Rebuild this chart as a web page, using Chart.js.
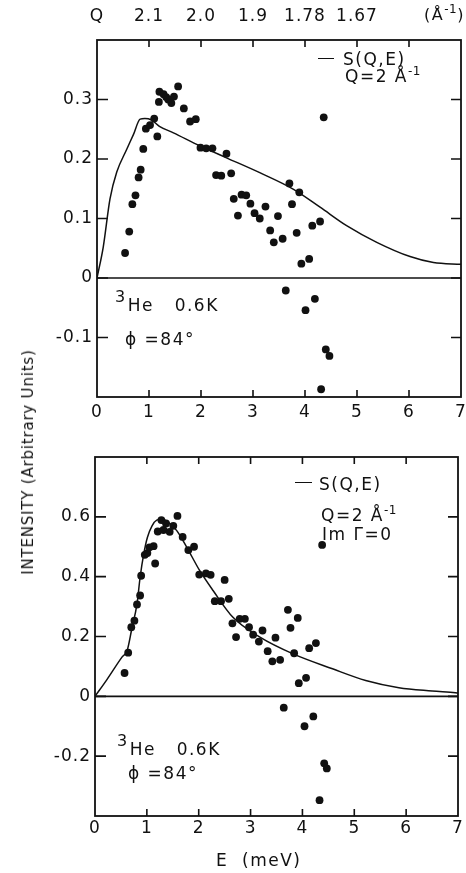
<!DOCTYPE html>
<html><head><meta charset="utf-8">
<script src="https://cdn.jsdelivr.net/npm/chart.js@4.4.1/dist/chart.umd.min.js"></script>
<style>
html,body{margin:0;padding:0;background:#fff;}
body{width:466px;height:873px;position:relative;overflow:hidden;font-family:"DejaVu Sans",sans-serif;color:#111;}
canvas{position:absolute;left:0;}
.t{position:absolute;font-size:17px;letter-spacing:1.5px;white-space:nowrap;line-height:1;transform:translateY(-50%);}
.dash{position:absolute;height:0;border-top:1.6px solid #111;}
.s3{font-size:16px;position:relative;top:-9px;margin-right:1px;}
.sm{font-size:12px;position:relative;top:-7px;letter-spacing:0.5px;}
#ytitle{position:absolute;left:28px;top:462px;font-size:15px;letter-spacing:0.8px;white-space:nowrap;transform:translate(-50%,-50%) rotate(-90deg);}
</style></head><body>
<canvas id="c1" width="466" height="440" style="top:0"></canvas>
<canvas id="c2" width="466" height="433" style="top:440px"></canvas>

<div id="ytitle">INTENSITY (Arbitrary Units)</div>
<div class="t" style="left:424px;top:15px;font-size:16px;">(Å<span class="sm">-1</span>)</div>

<div class="dash" style="left:318px;top:58px;width:16px;"></div>
<div class="t" style="left:343px;top:59px;">S(Q,E)</div>
<div class="t" style="left:345px;top:76px;">Q=2 Å<span class="sm">-1</span></div>
<div class="t" style="left:115px;top:305px;"><span class="s3">3</span>He&nbsp;&nbsp;&nbsp;0.6K</div>
<div class="t" style="left:125px;top:339px;">ϕ =84°</div>

<div class="dash" style="left:295px;top:482px;width:17px;"></div>
<div class="t" style="left:319px;top:484px;">S(Q,E)</div>
<div class="t" style="left:321px;top:515px;">Q=2 Å<span class="sm">-1</span></div>
<div class="t" style="left:322px;top:534px;">Im Γ=0</div>
<div class="t" style="left:117px;top:749px;"><span class="s3">3</span>He&nbsp;&nbsp;&nbsp;0.6K</div>
<div class="t" style="left:128px;top:773px;">ϕ =84°</div>

<div class="t" style="left:216px;top:860px;">E&nbsp;&nbsp;(meV)</div>

<script>
// ---------- data ----------
const energyTicks = [0, 1, 2, 3, 4, 5, 6, 7];
const qTickLabels = ['Q', '2.1', '2.0', '1.9', '1.78', '1.67', '', ''];

// top panel: S(Q,E) model curve
const topCurveE = [0, 0.12, 0.25, 0.38, 0.57, 0.70, 0.83, 0.92, 1.04, 1.20, 1.47, 1.98, 2.49, 3.13, 3.78, 4.29, 4.80, 5.38, 6.02, 6.47, 7.0];
const topCurveS = [0, 0.052, 0.133, 0.178, 0.216, 0.241, 0.267, 0.268, 0.266, 0.255, 0.244, 0.222, 0.202, 0.177, 0.149, 0.119, 0.088, 0.060, 0.036, 0.026, 0.023];
// top panel: measured intensity
const topDataE = [0.54, 0.62, 0.68, 0.74, 0.80, 0.84, 0.89, 0.94, 1.02, 1.10, 1.16, 1.19, 1.20, 1.28, 1.33, 1.37, 1.43, 1.48, 1.56, 1.67, 1.79, 1.90, 1.99, 2.10, 2.22, 2.29, 2.39, 2.49, 2.58, 2.63, 2.71, 2.78, 2.87, 2.95, 3.03, 3.13, 3.24, 3.33, 3.40, 3.48, 3.57, 3.63, 3.70, 3.75, 3.84, 3.89, 3.93, 4.01, 4.08, 4.14, 4.19, 4.29, 4.31, 4.36, 4.40, 4.47];
const topDataI = [0.042, 0.078, 0.124, 0.139, 0.169, 0.182, 0.217, 0.251, 0.257, 0.268, 0.238, 0.296, 0.313, 0.309, 0.304, 0.300, 0.294, 0.305, 0.322, 0.285, 0.263, 0.267, 0.219, 0.218, 0.218, 0.173, 0.172, 0.209, 0.176, 0.133, 0.105, 0.140, 0.139, 0.125, 0.109, 0.100, 0.120, 0.080, 0.060, 0.104, 0.066, -0.021, 0.159, 0.124, 0.076, 0.144, 0.024, -0.054, 0.032, 0.088, -0.035, 0.095, -0.187, 0.270, -0.120, -0.131];

// bottom panel: S(Q,E) model curve (Im Γ = 0)
const botCurveE = [0, 0.23, 0.52, 0.62, 0.71, 0.81, 0.87, 0.94, 1.01, 1.10, 1.19, 1.29, 1.42, 1.58, 1.77, 2.02, 2.28, 2.66, 3.18, 3.82, 4.58, 5.22, 5.86, 6.50, 6.95, 7.0];
const botCurveS = [0, 0.056, 0.131, 0.153, 0.226, 0.309, 0.398, 0.476, 0.531, 0.570, 0.589, 0.592, 0.581, 0.553, 0.498, 0.420, 0.353, 0.264, 0.198, 0.142, 0.092, 0.053, 0.029, 0.018, 0.012, 0.011];
// bottom panel: measured intensity
const botDataE = [0.57, 0.64, 0.70, 0.76, 0.81, 0.87, 0.89, 0.96, 1.01, 1.05, 1.13, 1.16, 1.21, 1.28, 1.32, 1.37, 1.44, 1.51, 1.59, 1.69, 1.80, 1.91, 2.01, 2.14, 2.23, 2.31, 2.43, 2.50, 2.58, 2.65, 2.72, 2.79, 2.89, 2.97, 3.05, 3.16, 3.23, 3.33, 3.42, 3.48, 3.57, 3.64, 3.72, 3.77, 3.84, 3.91, 3.93, 4.04, 4.07, 4.13, 4.21, 4.26, 4.33, 4.38, 4.42, 4.47];
const botDataI = [0.078, 0.146, 0.231, 0.253, 0.307, 0.337, 0.403, 0.473, 0.479, 0.498, 0.502, 0.444, 0.551, 0.589, 0.556, 0.578, 0.550, 0.570, 0.603, 0.533, 0.489, 0.500, 0.407, 0.411, 0.406, 0.318, 0.318, 0.389, 0.326, 0.244, 0.198, 0.259, 0.259, 0.231, 0.206, 0.183, 0.220, 0.151, 0.117, 0.196, 0.122, -0.038, 0.289, 0.229, 0.144, 0.262, 0.044, -0.100, 0.062, 0.161, -0.067, 0.178, -0.347, 0.506, -0.224, -0.241];

const topYTicks = [-0.2, -0.1, 0, 0.1, 0.2, 0.3, 0.4];
const topYLabels = ['', '-0.1', '0', '0.1', '0.2', '0.3', ''];
const botYTicks = [-0.4, -0.2, 0, 0.2, 0.4, 0.6, 0.8];
const botYLabels = ['', '-0.2', '0', '0.2', '0.4', '0.6', ''];

// ---------- helpers ----------
const INK = '#111';
const pts = (xs, ys) => xs.map((x, i) => ({x: x, y: ys[i]}));
const FONT = {family: '"DejaVu Sans", sans-serif', size: 17};

const framePlugin = {
  id: 'frame',
  beforeDraw(chart) { chart.ctx.letterSpacing = '1px'; },
  beforeDatasetsDraw(chart) {
    const {ctx, chartArea: a, scales} = chart;
    const y0 = scales.y.getPixelForValue(0);
    ctx.save();
    ctx.strokeStyle = INK; ctx.lineWidth = 1.6;
    ctx.beginPath(); ctx.moveTo(a.left, y0); ctx.lineTo(a.right, y0); ctx.stroke();
    ctx.restore();
  },
  afterDraw(chart) {
    const {ctx, chartArea: a, scales} = chart;
    ctx.save();
    ctx.strokeStyle = INK; ctx.lineWidth = 1.8;
    ctx.strokeRect(a.left, a.top, a.right - a.left, a.bottom - a.top);
    ctx.lineWidth = 1.6;
    scales.x.ticks.forEach(t => {
      if (t.value <= scales.x.min || t.value >= scales.x.max) return;
      const p = scales.x.getPixelForValue(t.value);
      ctx.beginPath();
      ctx.moveTo(p, a.bottom); ctx.lineTo(p, a.bottom - 7);
      ctx.moveTo(p, a.top); ctx.lineTo(p, a.top + 7);
      ctx.stroke();
    });
    scales.y.ticks.forEach(t => {
      if (t.value <= scales.y.min + 1e-9 || t.value >= scales.y.max - 1e-9) return;
      const p = scales.y.getPixelForValue(t.value);
      ctx.beginPath();
      ctx.moveTo(a.left, p); ctx.lineTo(a.left + 11, p);
      ctx.moveTo(a.right, p); ctx.lineTo(a.right - 10, p);
      ctx.stroke();
    });
    ctx.restore();
  }
};

function makeChart(id, curveE, curveS, dataE, dataI, yTicks, yLabels, opt) {
  const scales = {
    x: {
      type: 'linear', position: 'bottom', min: 0, max: 7,
      afterBuildTicks: s => { s.ticks = energyTicks.map(v => ({value: v})); },
      ticks: {color: INK, font: FONT, padding: opt.xPad, maxRotation: 0, autoSkip: false, callback: v => String(v)},
      grid: {display: false, drawTicks: false},
      border: {display: false},
      afterFit: s => { s.height = opt.xH; s.paddingLeft = 0; s.paddingRight = 0; }
    },
    y: {
      type: 'linear', position: 'left', min: yTicks[0], max: yTicks[yTicks.length - 1],
      afterBuildTicks: s => { s.ticks = yTicks.map(v => ({value: v})); },
      ticks: {color: INK, font: FONT, padding: 4, autoSkip: false,
        callback: (v, i) => yLabels[i]},
      grid: {display: false, drawTicks: false},
      border: {display: false},
      afterFit: s => { s.width = opt.yW; s.paddingTop = 0; s.paddingBottom = 0; }
    }
  };
  if (opt.qAxis) {
    scales.x2 = {
      type: 'linear', position: 'top', min: 0, max: 7,
      afterBuildTicks: s => { s.ticks = energyTicks.map(v => ({value: v})); },
      ticks: {color: INK, font: FONT, padding: 13, maxRotation: 0, autoSkip: false,
        callback: (v, i) => qTickLabels[i]},
      grid: {display: false, drawTicks: false},
      border: {display: false},
      afterFit: s => { s.height = opt.topH; s.paddingLeft = 0; s.paddingRight = 0; }
    };
  }
  return new Chart(document.getElementById(id), {
    type: 'scatter',
    data: {
      datasets: [
        {type: 'line', label: 'S(Q,E)', data: pts(curveE, curveS), borderColor: INK, borderWidth: 1.5,
         pointRadius: 0, fill: false, cubicInterpolationMode: 'monotone', order: 2},
        {type: 'scatter', label: 'data', data: pts(dataE, dataI), backgroundColor: INK, borderColor: INK,
         borderWidth: 0, pointRadius: 3.9, order: 1}
      ]
    },
    options: {
      responsive: false, animation: false, devicePixelRatio: 1,
      layout: {padding: opt.pad},
      plugins: {legend: {display: false}, tooltip: {enabled: false}},
      scales: scales
    },
    plugins: [framePlugin]
  });
}

makeChart('c1', topCurveE, topCurveS, topDataE, topDataI, topYTicks, topYLabels,
  {xPad: 5, xH: 43, yW: 97, topH: 40, qAxis: true, pad: {left: 0, right: 5, top: 0, bottom: 0}});
makeChart('c2', botCurveE, botCurveS, botDataE, botDataI, botYTicks, botYLabels,
  {xPad: 2, xH: 57, yW: 95, qAxis: false, pad: {left: 0, right: 8, top: 17, bottom: 0}});
</script>
</body></html>
